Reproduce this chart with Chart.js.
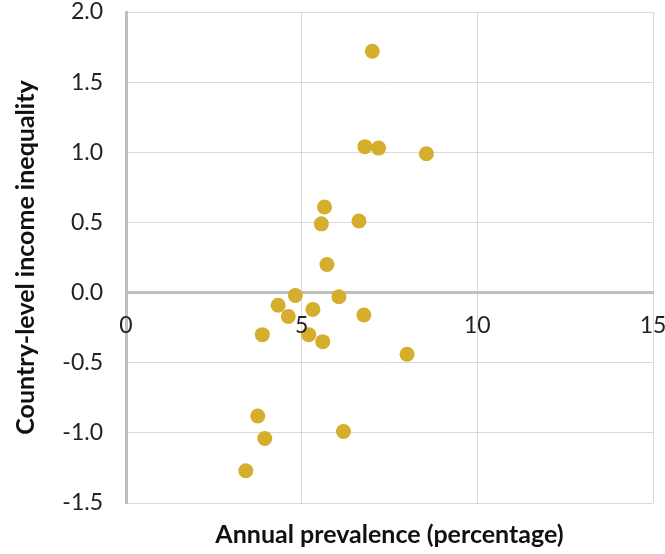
<!DOCTYPE html>
<html>
<head>
<meta charset="utf-8">
<title>Income inequality vs annual prevalence</title>
<script src="https://cdn.jsdelivr.net/npm/chart.js@4/dist/chart.umd.min.js"></script>
<style>
  html, body { margin: 0; padding: 0; background: #ffffff; }
  #wrap { width: 665px; height: 554px; }
</style>
</head>
<body>
<div id="wrap"><canvas id="chart" width="665" height="554"></canvas></div>
<script>
// Annual prevalence (%) per country
const prevalence = [7.01, 6.80, 7.19, 8.55, 5.65, 5.56, 6.63, 5.72,
                    4.82, 6.06, 4.33, 5.32, 4.62, 6.77, 3.88, 5.20,
                    5.60, 8.00, 3.75, 6.19, 3.95, 3.41];
// Country-level income inequality (standardised)
const inequality = [1.72, 1.04, 1.03, 0.99, 0.61, 0.49, 0.51, 0.20,
                    -0.02, -0.03, -0.09, -0.12, -0.17, -0.16, -0.30, -0.30,
                    -0.35, -0.44, -0.88, -0.99, -1.04, -1.27];

const xTicks = [0, 5, 10, 15];
const yTicks = [-1.5, -1.0, -0.5, 0.0, 0.5, 1.0, 1.5, 2.0];

const xTitle = 'Annual prevalence (percentage)';
const yTitle = 'Country-level income inequality';

const points = prevalence.map((x, i) => ({ x: x, y: inequality[i] }));

const gridColor = '#d9d9d9';
const axisColor = '#bfbfbf';
const tickFont = { family: 'Lato, "Open Sans", sans-serif', size: 23 };
const titleFont = { family: 'Lato, "Open Sans", sans-serif', size: 25, weight: 'bold' };

new Chart(document.getElementById('chart'), {
  type: 'scatter',
  data: {
    datasets: [{
      data: points,
      backgroundColor: '#d4ae2c',
      borderWidth: 0,
      pointRadius: 7.5,
      pointHoverRadius: 7.5
    }]
  },
  options: {
    responsive: false,
    animation: false,
    events: [],
    layout: { padding: 0 },
    plugins: {
      legend: { display: false },
      tooltip: { enabled: false }
    },
    scales: {
      x: {
        type: 'linear',
        min: xTicks[0],
        max: xTicks[xTicks.length - 1],
        position: { y: 0 },
        afterBuildTicks: s => { s.ticks = xTicks.map(v => ({ value: v })); },
        // keep the plot area flush: only a small margin on the right
        afterFit: s => { s.paddingLeft = 0; s.paddingRight = 12; },
        grid: {
          color: c => (c.tick && c.tick.value === 0) ? 'rgba(0,0,0,0)' : gridColor,
          lineWidth: 1,
          drawTicks: false
        },
        border: { display: true, color: axisColor, width: 3 },
        ticks: {
          font: tickFont,
          color: '#222222',
          padding: 19,
          maxRotation: 0,
          z: 1,
          callback: v => String(v)
        },
        title: { display: false }
      },
      xTitleAxis: {
        type: 'linear',
        axis: 'x',
        position: 'bottom',
        min: 0,
        max: 15,
        grid: { display: false, drawTicks: false },
        border: { display: false },
        ticks: { display: false },
        afterFit: s => { s.height = 51; s.paddingLeft = 0; s.paddingRight = 0; },
        title: {
          display: true,
          text: xTitle,
          font: titleFont,
          color: '#111111',
          padding: { top: 0, bottom: 4 }
        }
      },
      y: {
        type: 'linear',
        min: yTicks[0],
        max: yTicks[yTicks.length - 1],
        position: 'left',
        afterBuildTicks: s => { s.ticks = yTicks.map(v => ({ value: v })); },
        afterFit: s => { s.width = 126; s.paddingTop = 12; s.paddingBottom = 0; },
        grid: {
          color: c => (c.tick && c.tick.value === 0) ? 'rgba(0,0,0,0)' : gridColor,
          lineWidth: 1,
          drawTicks: false
        },
        border: { display: true, color: axisColor, width: 3 },
        ticks: {
          font: tickFont,
          color: '#222222',
          padding: 23,
          callback: v => Number(v).toFixed(1)
        },
        title: {
          display: true,
          text: yTitle,
          font: titleFont,
          color: '#111111',
          padding: { top: 11, bottom: 0 }
        }
      }
    }
  }
});
</script>
</body>
</html>
